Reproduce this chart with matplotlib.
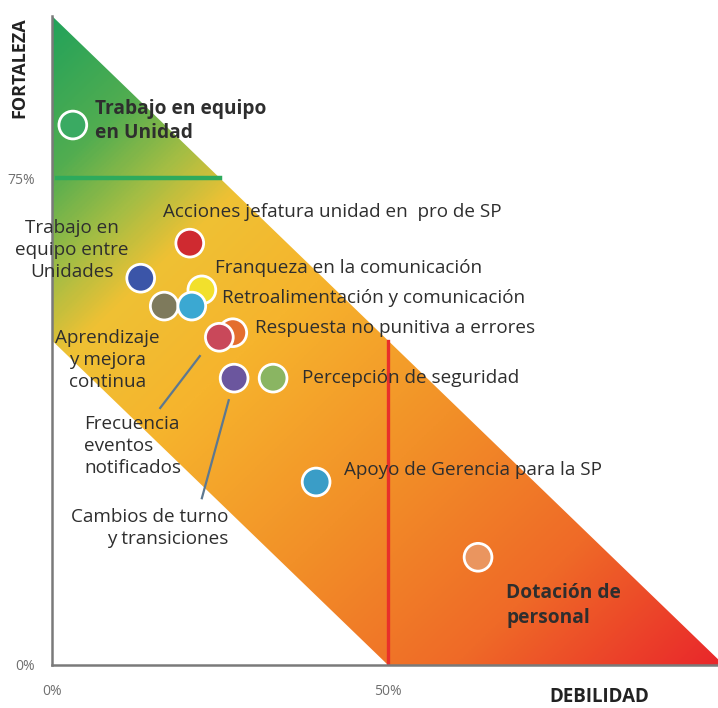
import numpy as np
import matplotlib
matplotlib.use("Agg")
import matplotlib.pyplot as plt
from matplotlib.colors import LinearSegmentedColormap
from matplotlib.patches import Polygon

plt.rcParams['font.family'] = ['Open Sans', 'DejaVu Sans']

# Dimensiones: debilidad (x) y fortaleza (y), en fracción
dimensiones = [
    "Trabajo en equipo en Unidad",
    "Acciones jefatura unidad en pro de SP",
    "Trabajo en equipo entre Unidades",
    "Franqueza en la comunicación",
    "Aprendizaje y mejora continua",
    "Retroalimentación y comunicación",
    "Respuesta no punitiva a errores",
    "Frecuencia eventos notificados",
    "Cambios de turno y transiciones",
    "Percepción de seguridad",
    "Apoyo de Gerencia para la SP",
    "Dotación de personal",
]
debilidad = [0.031, 0.205, 0.132, 0.223, 0.167, 0.208, 0.269, 0.249, 0.271, 0.329, 0.393, 0.634]
fortaleza = [0.832, 0.650, 0.596, 0.578, 0.553, 0.553, 0.512, 0.505, 0.442, 0.442, 0.282, 0.166]
colores = ["#3aaa62", "#cf2a30", "#3b55a8", "#f2e02c", "#7e7a5c", "#3ba8d2",
           "#e46e2e", "#c9485a", "#6b569e", "#8ab562", "#3a9dc7", "#ea955f"]

# Textos: (texto, x, y, alineación, negrita)
etiquetas = [
    ("Trabajo en equipo\nen Unidad", 0.064, 0.838, "left", True),
    ("Acciones jefatura unidad en  pro de SP", 0.165, 0.698, "left", False),
    ("Trabajo en\nequipo entre\nUnidades", 0.030, 0.639, "center", False),
    ("Franqueza en la comunicación", 0.243, 0.612, "left", False),
    ("Retroalimentación y comunicación", 0.253, 0.566, "left", False),
    ("Respuesta no punitiva a errores", 0.302, 0.519, "left", False),
    ("Aprendizaje\ny mejora\ncontinua", 0.082, 0.470, "center", False),
    ("Frecuencia\neventos\nnotificados", 0.048, 0.337, "left", False),
    ("Cambios de turno\ny transiciones", 0.262, 0.211, "right", False),
    ("Percepción de seguridad", 0.372, 0.442, "left", False),
    ("Apoyo de Gerencia para la SP", 0.435, 0.300, "left", False),
    ("Dotación de\npersonal", 0.676, 0.092, "left", True),
]

# líneas guía hacia las etiquetas
guias = [
    ((0.220, 0.161), (0.476, 0.396)),
    ((0.263, 0.223), (0.408, 0.257)),
]

fig = plt.figure(figsize=(7.18, 7.08), dpi=100)
ax = fig.add_axes([52 / 718, 43 / 708, 672 / 718, 649 / 708])
ax.set_xlim(0, 1)
ax.set_ylim(0, 1)

# banda degradada entre x+y=1 y x+y=0.5
cmap = LinearSegmentedColormap.from_list("semaforo", [
    (0.00, "#22a25a"), (0.12, "#52ad50"), (0.20, "#a4bd44"), (0.27, "#efc134"),
    (0.40, "#f6b42d"), (0.60, "#f29028"), (0.80, "#ef6a27"), (1.00, "#e9262b")])
gx, gy = np.meshgrid(np.linspace(0, 1, 400), np.linspace(0, 1, 400))
t = (gx - gy + 1) / 2
img = ax.imshow(t, extent=[0, 1, 0, 1], origin="lower", cmap=cmap,
                vmin=0, vmax=1, aspect="auto", zorder=0)
banda = Polygon([(0, 1), (1, 0), (0.5, 0), (0, 0.5)], closed=True,
                facecolor="none", edgecolor="none")
ax.add_patch(banda)
img.set_clip_path(banda)

# umbrales
ax.plot([0.008, 0.25], [0.75, 0.75], color="#2eaa5c", lw=3.2, zorder=2)
ax.plot([0.5, 0.5], [0, 0.5], color="#e8302a", lw=2.4, zorder=2)

for (x0, x1), (y0, y1) in guias:
    ax.plot([x0, x1], [y0, y1], color="#5d7890", lw=1.6, zorder=2)

ax.scatter(debilidad, fortaleza, s=400, c=colores, edgecolors="white",
           linewidths=2, zorder=3)

for texto, x, y, ha, negrita in etiquetas:
    ax.text(x, y, texto, ha=ha, va="center",
            fontsize=13.8 if negrita else 13.6, color="#2e2e2e",
            fontweight="bold" if negrita else "normal", linespacing=1.3, zorder=4)

# ejes
for lado in ["top", "right"]:
    ax.spines[lado].set_visible(False)
for lado in ["left", "bottom"]:
    ax.spines[lado].set_color("#7a7a7a")
    ax.spines[lado].set_linewidth(1.8)
ax.set_xticks([0, 0.5], ["0%", "50%"])
ax.set_yticks([0, 0.75], ["0%", "75%"])
ax.tick_params(length=0, labelsize=10, labelcolor="#6f6f6f")
ax.tick_params(axis="x", pad=14)
ax.tick_params(axis="y", pad=12)

ax.text(-0.048, 0.92, "FORTALEZA", rotation=90, ha="center", va="center",
        fontsize=13, fontweight="bold", color="#222222")
ax.text(0.815, -0.05, "DEBILIDAD", ha="center", va="center",
        fontsize=13.5, fontweight="bold", color="#222222")

fig.savefig("out.png", dpi=100)
